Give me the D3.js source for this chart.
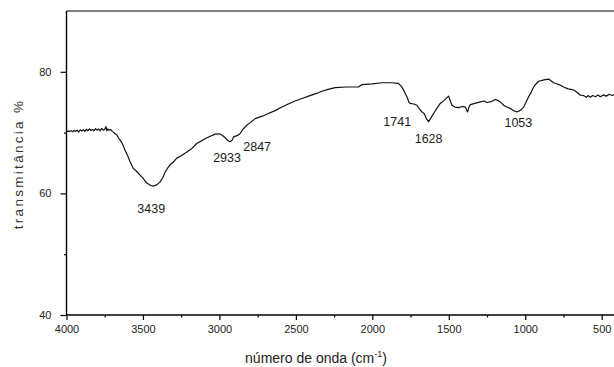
<!DOCTYPE html>
<html>
<head>
<meta charset="utf-8">
<script src="https://cdn.jsdelivr.net/npm/d3@7"></script>
<style>
  html, body { margin: 0; padding: 0; background: #fff; }
  svg { display: block; font-family: "Liberation Sans", Arial, sans-serif; }
</style>
</head>
<body>
<svg id="chart" width="614" height="367"></svg>
<script>
// ---- data ----
const wavenumber = [
  4000, 3990, 3980, 3970, 3960, 3950, 3940, 3930, 3920, 3910, 3900, 3890, 3880, 3870, 3860, 3850,
  3840, 3830, 3820, 3810, 3800, 3790, 3780, 3770, 3760, 3750, 3742, 3736, 3730, 3720, 3710, 3700,
  3690, 3683, 3670, 3660, 3650, 3640, 3630, 3617, 3600, 3584, 3563, 3540, 3519, 3500, 3475, 3450,
  3432, 3410, 3388, 3370, 3355, 3340, 3323, 3300, 3279, 3250, 3213, 3180, 3148, 3120, 3094, 3060,
  3028, 3000, 2984, 2960, 2945, 2930, 2915, 2908, 2885, 2864, 2845, 2821, 2800, 2766, 2720, 2679,
  2630, 2592, 2550, 2505, 2460, 2417, 2370, 2330, 2290, 2243, 2170, 2090, 2068, 2000, 1937, 1880,
  1829, 1810, 1796, 1774, 1760, 1752, 1730, 1708, 1690, 1675, 1660, 1645, 1632, 1620, 1599, 1580,
  1556, 1530, 1510, 1501, 1490, 1479, 1460, 1436, 1410, 1392, 1377, 1368, 1359, 1330, 1294, 1270,
  1250, 1220, 1196, 1180, 1163, 1141, 1120, 1097, 1075, 1054, 1030, 1010, 995, 978, 960, 945,
  930, 912, 890, 870, 847, 830, 814, 790, 770, 749, 720, 700, 683, 660, 640, 620,
  600, 590, 574, 560, 540, 525, 509, 490, 470, 450, 432, 415, 400
];
const transmittance = [
  70.2, 70.25, 70.2, 70.3, 70.15, 70.35, 70.2, 70.4, 70.1, 70.45, 70.25, 70.5, 70.2, 70.55, 70.3, 70.6,
  70.35, 70.5, 70.3, 70.65, 70.4, 70.6, 70.3, 70.7, 70.4, 70.5, 71.0, 70.3, 70.6, 70.4, 70.5, 70.2,
  70.0, 69.8, 69.6, 69.1, 68.8, 68.4, 67.9, 67.1, 66.2, 65.2, 64.1, 63.6, 63.0, 62.5, 61.7, 61.3,
  61.2, 61.4, 61.9, 62.6, 63.5, 64.1, 64.7, 65.2, 65.8, 66.2, 66.8, 67.4, 68.2, 68.6, 69.0, 69.4,
  69.75, 69.8, 69.6, 69.1, 68.7, 68.5, 68.8, 69.3, 69.5, 69.85, 70.6, 71.2, 71.6, 72.3, 72.7, 73.15,
  73.7, 74.2, 74.7, 75.2, 75.6, 76.0, 76.4, 76.8, 77.1, 77.4, 77.5, 77.5, 77.9, 78.0, 78.2, 78.2,
  78.1, 77.6, 77.0, 75.9, 75.0, 74.8, 74.7, 74.5, 73.8, 73.4, 73.1, 72.2, 71.8, 72.3, 73.15, 73.9,
  74.8, 75.3, 75.8, 76.0, 75.2, 74.5, 74.2, 74.1, 74.3, 74.2, 73.4, 74.2, 74.6, 74.8, 75.05, 75.2,
  74.95, 75.1, 75.45, 75.3, 75.05, 74.5, 74.2, 73.95, 73.6, 73.4, 73.7, 74.2, 75.0, 75.9, 76.7, 77.5,
  78.0, 78.45, 78.6, 78.7, 78.8, 78.5, 78.2, 78.0, 77.8, 77.5, 77.2, 77.1, 77.0, 76.6, 76.15, 76.1,
  75.8, 76.1, 75.8, 76.1, 75.9, 76.2, 75.9, 76.2, 76.0, 76.3, 76.1, 76.3, 76.2
];
const peakLabels = ["3439", "2933", "2847", "1741", "1628", "1053"];
const peakLabelWave = [3446, 2950, 2753, 1837, 1632, 1045];
const peakLabelT = [56.76, 65.14, 66.95, 71.06, 68.27, 70.9];
const xMajorTicks = [4000, 3500, 3000, 2500, 2000, 1500, 1000, 500];
const xMinorTicks = [3750, 3250, 2750, 2250, 1750, 1250, 750];
const yMajorTicks = [40, 60, 80];
const yMinorTicks = [50, 70];
const xTitle = "número de onda (cm";
const xTitleSup = "-1";
const yTitle = "transmitância %";

// ---- drawing ----
const svg = d3.select("#chart");
const x = d3.scaleLinear().domain([4000, 400]).range([66.5, 617]);
const y = d3.scaleLinear().domain([40, 90]).range([315, 11]);

// top frame line
svg.append("line")
  .attr("x1", x(4000)).attr("x2", 614)
  .attr("y1", y(90)).attr("y2", y(90))
  .attr("stroke", "#555").attr("stroke-width", 1.6);

// x axis
const gx = svg.append("g").attr("transform", `translate(0,${y(40)})`);
gx.call(d3.axisBottom(x).tickValues(xMajorTicks).tickSize(5).tickPadding(5).tickFormat(d3.format("d")))
  .call(g => g.select(".domain").attr("d", `M${x(4000)},0H614`).attr("stroke", "#000").attr("stroke-width", 1.3))
  .call(g => g.selectAll(".tick line").attr("stroke", "#000").attr("stroke-width", 1.2))
  .call(g => g.selectAll(".tick text").attr("font-size", 11).attr("fill", "#222")
             .attr("font-family", "Liberation Sans, Arial, sans-serif"));
svg.append("g").attr("transform", `translate(0,${y(40)})`)
  .call(d3.axisBottom(x).tickValues(xMinorTicks).tickSize(2.5).tickFormat(""))
  .call(g => g.select(".domain").remove())
  .call(g => g.selectAll(".tick line").attr("stroke", "#000").attr("stroke-width", 1.2));

// y axis
const gy = svg.append("g").attr("transform", `translate(${x(4000)},0)`);
gy.call(d3.axisLeft(y).tickValues(yMajorTicks).tickSize(6).tickPadding(9).tickFormat(d3.format("d")))
  .call(g => g.select(".domain").attr("d", `M0,${y(40)}V${y(90)}`).attr("stroke", "#000").attr("stroke-width", 1.4))
  .call(g => g.selectAll(".tick line").attr("stroke", "#000").attr("stroke-width", 1.2))
  .call(g => g.selectAll(".tick text").attr("font-size", 11).attr("fill", "#222")
             .attr("font-family", "Liberation Sans, Arial, sans-serif"));
svg.append("g").attr("transform", `translate(${x(4000)},0)`)
  .call(d3.axisLeft(y).tickValues(yMinorTicks).tickSize(2.5).tickFormat(""))
  .call(g => g.select(".domain").remove())
  .call(g => g.selectAll(".tick line").attr("stroke", "#000").attr("stroke-width", 1.2));

// spectrum line
const pts = wavenumber.map((w, i) => [w, transmittance[i]]);
svg.append("path")
  .datum(pts)
  .attr("fill", "none")
  .attr("stroke", "#111")
  .attr("stroke-width", 1.2)
  .attr("stroke-linejoin", "round")
  .attr("d", d3.line().x(d => x(d[0])).y(d => y(d[1])).curve(d3.curveLinear));

// peak labels
svg.append("g").selectAll("text")
  .data(peakLabels)
  .join("text")
  .attr("x", (d, i) => x(peakLabelWave[i]))
  .attr("y", (d, i) => y(peakLabelT[i]))
  .attr("text-anchor", "middle")
  .attr("font-size", 12.5)
  .attr("fill", "#222")
  .text(d => d);

// x title
const xt = svg.append("text")
  .attr("x", 316).attr("y", 363)
  .attr("text-anchor", "middle")
  .attr("font-size", 14)
  .attr("fill", "#222");
xt.append("tspan").text(xTitle);
xt.append("tspan").attr("font-size", 9).attr("dy", -6).text(xTitleSup);
xt.append("tspan").attr("dy", 6).text(")");

// y title
svg.append("text")
  .attr("transform", "translate(22.5,164) rotate(-90)")
  .attr("text-anchor", "middle")
  .attr("font-size", 13.5)
  .attr("letter-spacing", 2.3)
  .attr("fill", "#333")
  .text(yTitle);
</script>
</body>
</html>
